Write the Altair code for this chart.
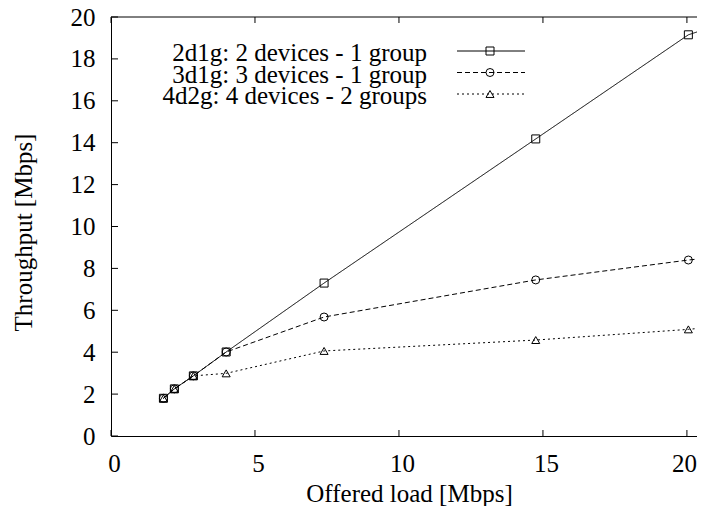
import altair as alt
import pandas as pd

# ---- data ----
series_names = ["2d1g: 2 devices - 1 group",
                "3d1g: 3 devices - 1 group",
                "4d2g: 4 devices - 2 groups"]
offered_load = [1.82, 2.2, 2.86, 4.0, 7.4, 14.75, 20.05, 25.0]   # last point lies beyond the visible range
thr_2d1g = [1.8, 2.25, 2.87, 4.01, 7.3, 14.18, 19.15, 21.4]
thr_3d1g = [1.8, 2.25, 2.87, 4.01, 5.68, 7.45, 8.40, 9.1]
thr_4d2g = [1.8, 2.25, 2.87, 2.99, 4.06, 4.58, 5.09, 5.73]
n_visible = 7
x_ticks = [0, 5, 10, 15, 20]
y_ticks = [0, 2, 4, 6, 8, 10, 12, 14, 16, 18, 20]

FONT = "Liberation Serif"
FS = 25
W, H = 586, 419
XDOM = [0, 20.35]
YDOM = [0, 20]

rows = []
for name, ys in zip(series_names, [thr_2d1g, thr_3d1g, thr_4d2g]):
    for i, (x, y) in enumerate(zip(offered_load, ys)):
        rows.append({"series": name, "load": x, "thr": y, "visible": i < n_visible})
df = pd.DataFrame(rows)

xs = alt.Scale(domain=XDOM, nice=False, zero=False)
ys_ = alt.Scale(domain=YDOM, nice=False, zero=False)
shapes = ["square", "circle", "triangle-up"]
dashes = [[1, 0], [5, 3], [2, 3]]

xaxis = alt.Axis(values=x_ticks, ticks=False, grid=False, title="Offered load [Mbps]",
                 labelFont=FONT, labelFontSize=FS, labelColor="black", labelBaseline="alphabetic",
                 labelPadding=35, labelFlush=False,
                 labelOffset={"condition": {"test": "datum.value >= 20", "value": -3}, "value": 3},
                 titleFont=FONT, titleFontSize=FS, titleFontWeight="normal", titleColor="black",
                 titleBaseline="alphabetic", titleY=65, titleX=298,
                 domainColor="black", domainWidth=1)
yaxis = alt.Axis(values=y_ticks, ticks=False, grid=False, title="Throughput [Mbps]",
                 labelFont=FONT, labelFontSize=FS, labelColor="black", labelPadding=16,
                 labelBaseline="middle",
                 titleFont=FONT, titleFontSize=FS, titleFontWeight="normal", titleColor="black",
                 titleBaseline="alphabetic", titleAngle=270, titleX=-80, titleY=215,
                 domainColor="black", domainWidth=1)

X = alt.X("load:Q", scale=xs, axis=xaxis)
Y = alt.Y("thr:Q", scale=ys_, axis=yaxis)

lines = alt.Chart(df).mark_line(color="black", strokeWidth=1, clip=True).encode(
    x=X, y=Y,
    detail="series:N",
    strokeDash=alt.StrokeDash("series:N", scale=alt.Scale(domain=series_names, range=dashes), legend=None),
)

points = alt.Chart(df).transform_filter("datum.visible").mark_point(
    color="black", filled=False, size=64, strokeWidth=1, clip=True, opacity=1).encode(
    x=X, y=Y,
    shape=alt.Shape("series:N", scale=alt.Scale(domain=series_names, range=shapes), legend=None),
)

# inward ticks (gnuplot style), mirrored on top
xt = pd.DataFrame({"load": x_ticks})
yt = pd.DataFrame({"thr": y_ticks})
xtick_bottom = alt.Chart(xt).mark_rule(color="black", strokeWidth=1).encode(
    x=X, y=alt.value(H), y2=alt.value(H - 6))
xtick_top = alt.Chart(xt).mark_rule(color="black", strokeWidth=1).encode(
    x=X, y=alt.value(0), y2=alt.value(6))
ytick_left = alt.Chart(yt).mark_rule(color="black", strokeWidth=1).encode(
    y=Y, x=alt.value(0), x2=alt.value(7))
top_border = alt.Chart(alt.Data(values=[{"a": 0}])).mark_rule(color="black", strokeWidth=1).encode(
    x=alt.value(0), x2=alt.value(W), y=alt.value(0))

# legend (gnuplot style: text right-aligned, sample to the right)
legend_layers = []
row_base = [44, 66, 87]
row_line = [34, 55.5, 77]
for name, shp, dsh, yb, yl in zip(series_names, shapes, dashes, row_base, row_line):
    d = alt.Data(values=[{"label": name}])
    legend_layers.append(alt.Chart(d).mark_text(
        font=FONT, fontSize=FS, align="right", baseline="alphabetic", color="black").encode(
        text="label:N", x=alt.value(316), y=alt.value(yb)))
    legend_layers.append(alt.Chart(d).mark_rule(color="black", strokeWidth=1, strokeDash=dsh).encode(
        x=alt.value(346), x2=alt.value(414), y=alt.value(yl)))
    legend_layers.append(alt.Chart(d).mark_point(
        shape=shp, filled=False, color="black", size=64, strokeWidth=1, opacity=1).encode(
        x=alt.value(379), y=alt.value(yl)))

chart = alt.layer(lines, points, xtick_bottom, xtick_top, ytick_left, top_border,
                  *legend_layers).properties(
    width=W, height=H,
    autosize=alt.AutoSizeParams(type="none"),
    padding={"left": 103, "top": 9, "right": 0, "bottom": 70},
    background="white",
).configure_view(stroke=None)

chart.save("out.html", embed_options={"renderer": "svg", "actions": False})
